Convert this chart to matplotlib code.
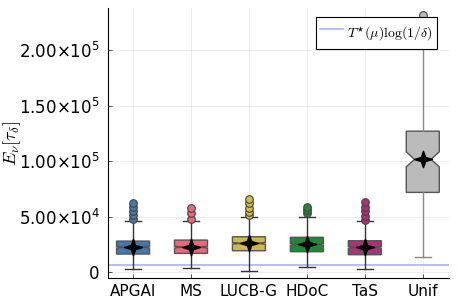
import numpy as np
import matplotlib.pyplot as plt
from matplotlib.path import Path

# algorithms and box statistics
names = ["APGAI", "MS", "LUCB-G", "HDoC", "TaS", "Unif"]
colors = ["#4477AA", "#EE6677", "#CCBB44", "#228833", "#AA3377", "#BBBBBB"]
whisk_colors = ["#333333", "#333333", "#333333", "#333333", "#333333", "#888888"]

q1 = [16200, 16800, 19200, 18300, 15600, 71800]
med = [22500, 22500, 25900, 25000, 22300, 101500]
q3 = [27900, 28800, 31800, 31300, 28200, 127000]
whislo = [2700, 3300, 1200, 4800, 3000, 13500]
whishi = [46000, 45700, 49800, 49800, 46000, 229000]
means = [22500, 22500, 25900, 25000, 22300, 101500]
cilo = [21700, 21700, 25100, 24200, 21500, 94900]
cihi = [23300, 23300, 26700, 25800, 23100, 108400]
fliers = [
    [47700, 51400, 55200, 58800, 62400],
    [47700, 52900, 57400],
    [51400, 54300, 57900, 61900, 65800],
    [52900, 55900, 58800],
    [46900, 50700, 55000, 58800, 62800],
    [231600],
]
ref_level = 6300  # T*(mu) log(1/delta)

yticks = [0, 50000, 100000, 150000, 200000]
ytick_labels = ["0", r"$5.00{\times}10^{4}$", r"$1.00{\times}10^{5}$",
                r"$1.50{\times}10^{5}$", r"$2.00{\times}10^{5}$"]

plt.rcParams['mathtext.fontset'] = 'dejavusans'

fig = plt.figure(figsize=(4.58, 3.05), dpi=100)
ax = fig.add_axes([0.236, 0.0885, 0.744, 0.885])

stats = []
for i in range(len(names)):
    stats.append(dict(med=med[i], q1=q1[i], q3=q3[i], whislo=whislo[i],
                      whishi=whishi[i], mean=means[i], fliers=fliers[i],
                      cilo=cilo[i], cihi=cihi[i], label=names[i]))

# thin four pointed star for the means
a = 0.26
star4 = Path([(0, 1), (a, a), (1.1, 0), (a, -a), (0, -1), (-a, -a), (-1.1, 0), (-a, a), (0, 1)],
             closed=True)

pos = np.arange(1, len(names) + 1)
for i in range(len(names)):
    ax.bxp([stats[i]], positions=[pos[i]], widths=0.57, shownotches=True,
           patch_artist=True, showmeans=True,
           boxprops=dict(facecolor=colors[i], edgecolor="#555555", linewidth=1),
           medianprops=dict(color="#555555", linewidth=1),
           whiskerprops=dict(color=whisk_colors[i], linewidth=1),
           capprops=dict(color=whisk_colors[i], linewidth=1),
           flierprops=dict(marker="o", markerfacecolor=colors[i],
                           markeredgecolor="#444444", markersize=5.5, markeredgewidth=0.8),
           meanprops=dict(marker=star4, markerfacecolor="black",
                          markeredgecolor="black", markersize=13))

ax.axhline(ref_level, color="#a4b4f0", linewidth=1.2, zorder=1,
           label=r"$T^{\star}(\mu)\log(1/\delta)$")

ax.set_xlim(0.569, 6.45)
ax.set_ylim(-5400, 238000)
ax.set_xticks(pos)
ax.set_xticklabels(names, fontsize=11)
ax.set_yticks(yticks)
ax.set_yticklabels(ytick_labels, fontsize=12)
ax.tick_params(direction="in", length=3, width=0.6, color="#333333", pad=4)
ax.tick_params(axis="y", pad=6)
ax.grid(True, color="#000000", alpha=0.08, linewidth=0.6)
ax.set_axisbelow(True)
for s in ["top", "right"]:
    ax.spines[s].set_visible(False)
for s in ["left", "bottom"]:
    ax.spines[s].set_linewidth(0.8)

ax.set_ylabel(r"$E_{\nu}[\tau_{\delta}]$", fontsize=13, math_fontfamily="cm")
ax.yaxis.set_label_coords(-0.25, 0.5)

leg = ax.legend(loc="upper right", fontsize=10, fancybox=False, framealpha=1,
                edgecolor="black", handlelength=1.65, handletextpad=0.3, borderpad=0.3,
                handleheight=2.2, borderaxespad=0, bbox_to_anchor=(0.965, 0.967))
leg.get_frame().set_linewidth(0.8)
for t in leg.get_texts():
    t.set_math_fontfamily("cm")

fig.savefig("out.png", dpi=100)
